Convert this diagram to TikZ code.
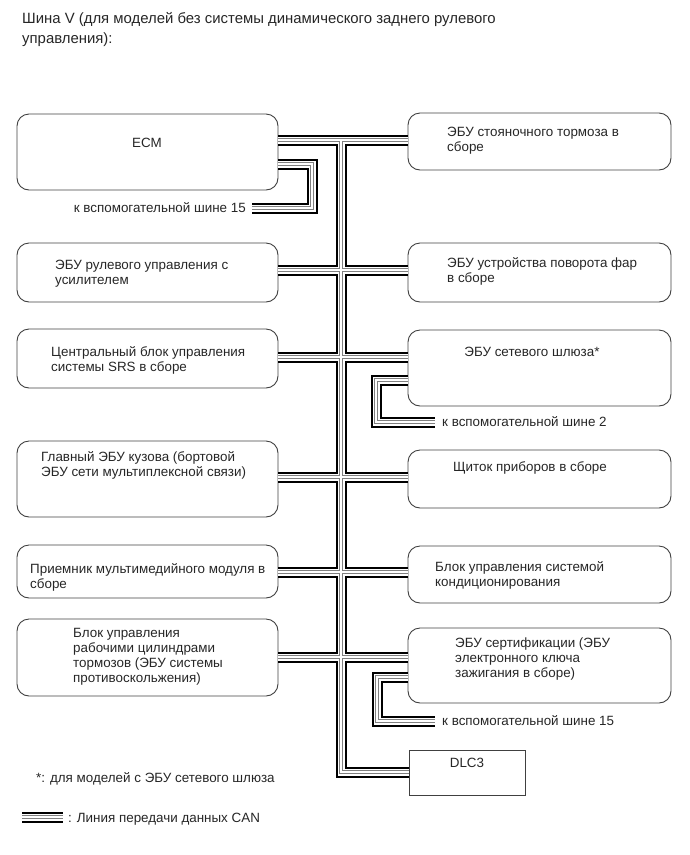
\documentclass[tikz,border=0pt]{standalone}
\usepackage{fontspec}
\setmainfont{Liberation Sans}
\usetikzlibrary{calc}
\newcommand\canpaths[1]{%
  \draw[#1] (ecm.east |- j1) -- (park.west |- j1);
  \draw[#1] (j1) -- (j7) -- (dlc.west |- j7);
  \draw[#1] (steer.east |- j2) -- (head.west |- j2);
  \draw[#1] (srs.east |- j3) -- (gw.west |- j3);
  \draw[#1] (body.east |- j4) -- (meter.west |- j4);
  \draw[#1] (mm.east |- j5) -- (ac.west |- j5);
  \draw[#1] (brake.east |- j6) -- (cert.west |- j6);
  \draw[#1] (ecm.east |- e1) -- (e1) -- (e2) -- (e3);
  \draw[#1] (gw.west |- g0) -- (g0) -- (g1) -- (g2);
  \draw[#1] (cert.west |- c0) -- (c0) -- (c1) -- (c2);
  \draw[#1] (L1) -- (L2);
}
\begin{document}
\begin{tikzpicture}[x=1pt,y=-1pt,
  box/.style={draw=black!75, line width=0.9pt, rounded corners=12pt, inner sep=0pt, outer sep=0pt, anchor=north west},
  sqbox/.style={draw=black!75, line width=0.9pt, inner sep=0pt, outer sep=0pt, anchor=north west},
  txt/.style={inner sep=0pt, align=left, anchor=north west, font=\fontsize{13.4}{15}\selectfont, text=black!85},
  ctxt/.style={txt, anchor=north, align=center},
  lbl/.style={inner sep=0pt, font=\fontsize{13.4}{15}\selectfont, text=black!85},
  canA/.style={line width=11pt, black, line join=miter},
  canB/.style={line width=7pt, white, line join=miter},
  canC/.style={line width=4.6pt, black!50, line join=miter},
  canD/.style={line width=1.4pt, white, line join=miter}]
\useasboundingbox (0,0) rectangle (690,855);

% title
\node[inner sep=0pt, anchor=north west, align=left, font=\fontsize{14.9}{20}\selectfont, text=black!85] (title) at (22,9)
  {\strut Шина V (для моделей без системы динамического заднего рулевого\\управления):};

% boxes
\node[box, minimum width=261pt, minimum height=76pt] (ecm) at (17,114) {};
\node[box, minimum width=263pt, minimum height=57pt] (park) at (408,113) {};
\node[box, minimum width=261pt, minimum height=59pt] (steer) at (17,243) {};
\node[box, minimum width=263pt, minimum height=59pt] (head) at (408,243) {};
\node[box, minimum width=261pt, minimum height=59pt] (srs) at (17,329) {};
\node[box, minimum width=263pt, minimum height=76pt] (gw) at (408,330) {};
\node[box, minimum width=261pt, minimum height=76pt] (body) at (17,441) {};
\node[box, minimum width=263pt, minimum height=58pt] (meter) at (408,450) {};
\node[box, minimum width=261pt, minimum height=53pt] (mm) at (17,545) {};
\node[box, minimum width=263pt, minimum height=57pt] (ac) at (408,546) {};
\node[box, minimum width=261pt, minimum height=77pt] (brake) at (17,619) {};
\node[box, minimum width=263pt, minimum height=75pt] (cert) at (408,628) {};
\node[sqbox, minimum width=116pt, minimum height=45pt] (dlc) at (409,750) {};

% box texts
\node[ctxt] (ecmT) at (147,137) {\strut ECM};
\node[txt] (parkT) at (447,126) {\strut ЭБУ стояночного тормоза в\\сборе};
\node[txt] (steerT) at (55,259) {\strut ЭБУ рулевого управления с\\усилителем};
\node[txt] (headT) at (447,257) {\strut ЭБУ устройства поворота фар\\в сборе};
\node[txt] (srsT) at (51,346) {\strut Центральный блок управления\\системы SRS в сборе};
\node[ctxt] (gwT) at (532,346) {\strut ЭБУ сетевого шлюза*};
\node[txt] (bodyT) at (41,451) {\strut Главный ЭБУ кузова (бортовой\\ЭБУ сети мультиплексной связи)};
\node[ctxt] (meterT) at (530,461) {\strut Щиток приборов в сборе};
\node[txt] (mmT) at (30,563) {\strut Приемник мультимедийного модуля в\\сборе};
\node[txt] (acT) at (435,561) {\strut Блок управления системой\\кондиционирования};
\node[txt] (brakeT) at (73,627) {\strut Блок управления\\рабочими цилиндрами\\тормозов (ЭБУ системы\\противоскольжения)};
\node[txt] (certT) at (455,637) {\strut ЭБУ сертификации (ЭБУ\\электронного ключа\\зажигания в сборе)};
\node[ctxt] (dlcT) at (467,757) {\strut DLC3};

% bus coordinates
\coordinate (j1) at (341,140);
\coordinate (j2) at (341,270);
\coordinate (j3) at (341,357);
\coordinate (j4) at (341,477);
\coordinate (j5) at (341,572);
\coordinate (j6) at (341,657);
\coordinate (j7) at (341,772);
\coordinate (e1) at (312,164);
\coordinate (e2) at (312,208);
\coordinate (e3) at (252,208);
\coordinate (g0) at (376,380);
\coordinate (g1) at (376,422);
\coordinate (g2) at (435,422);
\coordinate (c0) at (377,677);
\coordinate (c1) at (377,721);
\coordinate (c2) at (435,721);
\coordinate (L1) at (22,817);
\coordinate (L2) at (63,817);

% CAN lines, layered
\canpaths{canA}
\canpaths{canB}
\canpaths{canC}
\canpaths{canD}

% labels
\node[lbl, anchor=base east] (aux1) at ($(e3)+(-6,4.5)$) {к вспомогательной шине 15};
\node[lbl, anchor=base west] (aux2) at ($(g2)+(7,4.5)$) {к вспомогательной шине 2};
\node[lbl, anchor=base west] (aux3) at ($(c2)+(7,4.5)$) {к вспомогательной шине 15};
\node[lbl, anchor=base west] (note) at (36,782) {*: для моделей с ЭБУ сетевого шлюза};
\node[lbl, anchor=base west] (legend) at (68,822) {: Линия передачи данных CAN};
\end{tikzpicture}
\end{document}
